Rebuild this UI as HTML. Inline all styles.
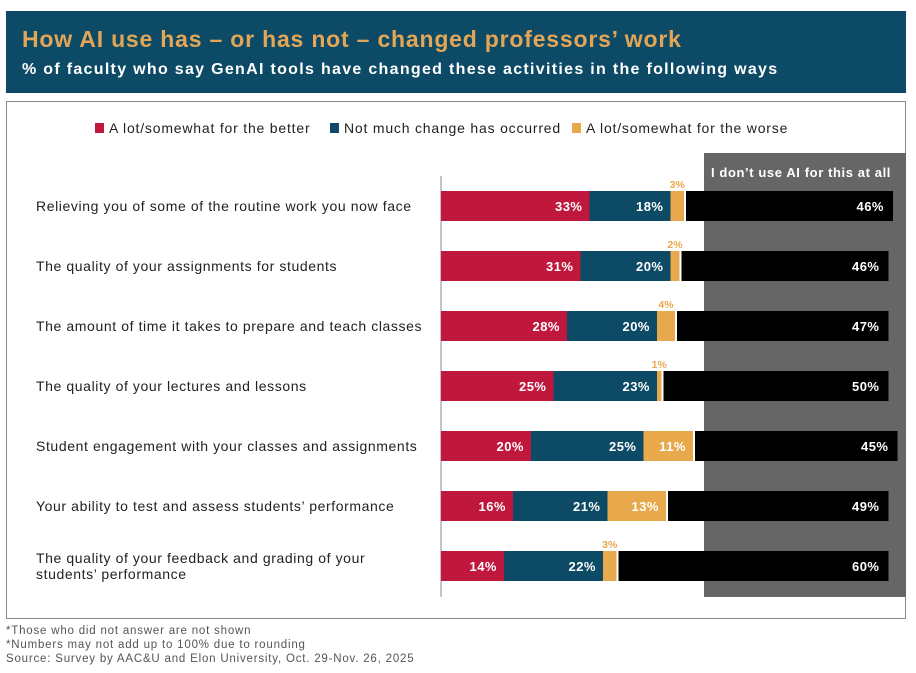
<!DOCTYPE html>
<html><head><meta charset="utf-8"><style>
body{margin:0;width:916px;height:673px;background:#fff;font-family:"Liberation Sans",sans-serif;overflow:hidden;position:relative}
.hdr{position:absolute;left:6px;top:11px;width:900px;height:82px;background:#0d4a66}
.t1{position:absolute;left:16px;top:15px;color:#e3a556;font-size:23px;font-weight:bold;letter-spacing:0.8px}
.t2{position:absolute;left:16px;top:50px;color:#fff;font-size:16px;font-weight:bold;letter-spacing:1.3px}
.box{position:absolute;left:6px;top:101px;width:898px;height:516px;border:1px solid #888}
.foot{position:absolute;left:6px;font-size:11.5px;color:#555;letter-spacing:0.8px}
</style></head><body>
<div class="hdr">
<div class="t1">How AI use has – or has not – changed professors’ work</div>
<div class="t2">% of faculty who say GenAI tools have changed these activities in the following ways</div>
</div>
<div class="box"></div>
<svg id="c" width="916" height="673" style="position:absolute;left:0;top:0"></svg>
<div class="foot" style="top:625px">*Those who did not answer are not shown</div>
<div class="foot" style="top:639px">*Numbers may not add up to 100% due to rounding</div>
<div class="foot" style="top:653px">Source: Survey by AAC&amp;U and Elon University, Oct. 29-Nov. 26, 2025</div>
<script>
const categories=[["Relieving you of some of the routine work you now face"],["The quality of your assignments for students"],["The amount of time it takes to prepare and teach classes"],["The quality of your lectures and lessons"],["Student engagement with your classes and assignments"],["Your ability to test and assess students’ performance"],["The quality of your feedback and grading of your","students’ performance"]];
const better=[33,31,28,25,20,16,14];
const noChange=[18,20,20,23,25,21,22];
const worse=[3,2,4,1,11,13,3];
const noUse=[46,46,47,50,45,49,60];
const NS="http://www.w3.org/2000/svg";
const svg=document.getElementById('c');
const x0=441,k=4.5,rowY=i=>206+i*60,bh=30;
const X=v=>x0+v*k;
function mk(t,a){const e=document.createElementNS(NS,t);for(const n in a)e.setAttribute(n,a[n]);svg.appendChild(e);return e;}
let g=mk('rect',{x:704,y:153,width:202,height:444,fill:'#666'});


let gt=mk('text',{x:801,y:177,fill:'#fff','font-size':13,'font-weight':'bold','text-anchor':'middle','letter-spacing':0.6});gt.textContent="I don’t use AI for this at all";


let ax=mk('line',{x1:441,y1:176,x2:441,y2:597,stroke:'#888','stroke-width':1});


const leg=[["A lot/somewhat for the better","#c0173c",95],["Not much change has occurred","#0d4a66",330],["A lot/somewhat for the worse","#e8a84c",572]];
leg.forEach((l,i)=>{let r=mk('rect',{x:l[2],y:123,width:9,height:10,fill:l[1]});


let t=mk('text',{x:l[2]+14,y:133,'font-size':14,fill:'#222','letter-spacing':0.8});t.textContent=l[0];

});
categories.forEach((c,i)=>{
 const cy=rowY(i);
 let t=mk('text',{x:36,y:c.length>1?cy-3:cy+5,'font-size':14,fill:'#222','letter-spacing':0.6});
 
 
 c.forEach((line,j)=>{const s=document.createElementNS(NS,'tspan');s.setAttribute('x',36);if(j)s.setAttribute('dy',16);s.textContent=line;t.appendChild(s);});
 const segs=[[0,better[i],'#c0173c','bar-better'],[better[i],better[i]+noChange[i],'#0d4a66','bar-no-change'],[better[i]+noChange[i],better[i]+noChange[i]+worse[i],'#e8a84c','bar-worse']];
 segs.forEach((s,j)=>{
  let r=mk('rect',{x:X(s[0]),y:cy-bh/2,width:X(s[1])-X(s[0]),height:bh,fill:s[2]});
  
  
  const v=s[1]-s[0];
  if(j==2&&v<5){let l=mk('text',{x:(X(s[0])+X(s[1]))/2,y:cy-bh/2-3,'font-size':10.5,'font-weight':'bold',fill:'#e8a84c','text-anchor':'middle'});l.textContent=v+'%';
   
   }
  else{let l=mk('text',{x:X(s[1])-7,y:cy+5,'font-size':13,'font-weight':'bold',fill:'#fff','text-anchor':'end','letter-spacing':0.5});l.textContent=v+'%';
   
   }
 });
 const s0=better[i]+noChange[i]+worse[i];
 let b=mk('rect',{x:X(s0)+2,y:cy-bh/2,width:noUse[i]*k,height:bh,fill:'#000'});
 
 
 let l=mk('text',{x:X(s0)+2+noUse[i]*k-9,y:cy+5,'font-size':13,'font-weight':'bold',fill:'#fff','text-anchor':'end','letter-spacing':0.5});l.textContent=noUse[i]+'%';
 
 
});
</script>
</body></html>
